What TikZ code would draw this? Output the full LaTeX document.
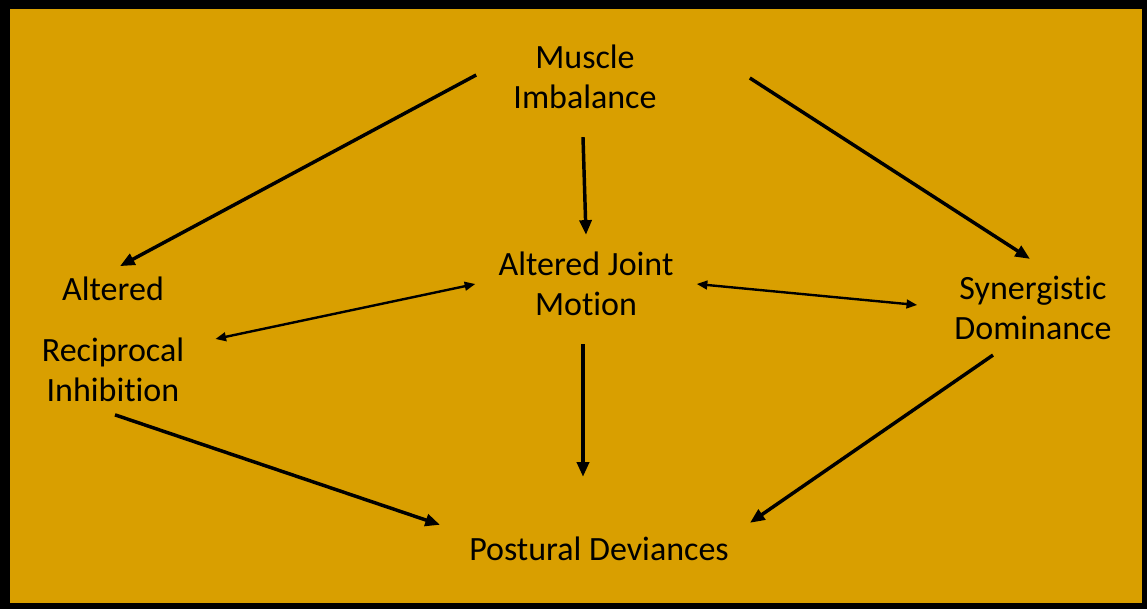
\documentclass[tikz,border=0pt]{standalone}
\usepackage{fontspec}
\setmainfont{Carlito}[Ligatures=NoCommon]
\usepackage{xcolor}
\usepackage{tikz}
\usetikzlibrary{arrows.meta,calc}

\definecolor{gold}{RGB}{217,159,0}

\begin{document}
\begin{tikzpicture}[
  x=0.75pt, y=-0.75pt,
  lbl/.style={align=center, inner sep=0pt, font=\fontsize{25.5}{30}\selectfont},
  arr/.style={-{Triangle[length=11pt,width=9pt]}, line width=2.6pt},
  dbl/.style={{Triangle[length=8pt,width=6.5pt]}-{Triangle[length=8pt,width=6.5pt]}, line width=1.8pt}
]
% Frame and background
\useasboundingbox (0,0) rectangle (1147,609);
\fill[black] (0,0) rectangle (1147,609);
\fill[gold] (10,9) rectangle (1142,603);

% Nodes
\node[lbl] (mi)  at (585,77)   {Muscle\\Imbalance};
\node[lbl] (ajm) at (586,284)  {Altered Joint\\Motion};
\node[lbl] (ari) at (113,339)  {Altered\\[16pt]Reciprocal\\Inhibition};
\node[lbl] (sd)  at (1033,308) {Synergistic\\Dominance};
\node[lbl] (pd)  at (599,549)  {Postural Deviances};

% Arrows
\draw[arr] ($(mi.west)+(-37,-2)$) -- ($(ari.north)+(7,-10)$);
\draw[arr] ($(mi.south)+(-2,28)$) -- ($(ajm.north)+(0,-17)$);
\draw[arr] ($(mi.east)+(93,1)$) -- ($(sd.north)+(-3,-17)$);
\draw[dbl] ($(ajm.west)+(-23,0)$) -- ($(ari.east)+(31,0)$);
\draw[dbl] ($(ajm.east)+(23,0)$) -- ($(sd.west)+(-37,-3)$);
\draw[arr] ($(ari.south)+(2,13)$) -- ($(pd.north)+(-159,-12)$);
\draw[arr] ($(ajm.south)+(-3,28)$) -- ($(pd.north)+(-16,-60)$);
\draw[arr] ($(sd.south)+(-40,15)$) -- ($(pd.north)+(151,-14)$);
\end{tikzpicture}
\end{document}
